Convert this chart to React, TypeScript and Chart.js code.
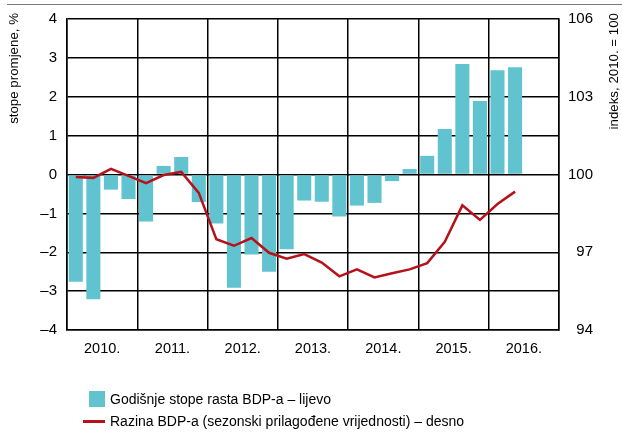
import React, { useEffect, useRef } from "react";
import { Chart, registerables } from "chart.js";

Chart.register(...registerables);

const quarters = [
  "2010 Q1", "2010 Q2", "2010 Q3", "2010 Q4",
  "2011 Q1", "2011 Q2", "2011 Q3", "2011 Q4",
  "2012 Q1", "2012 Q2", "2012 Q3", "2012 Q4",
  "2013 Q1", "2013 Q2", "2013 Q3", "2013 Q4",
  "2014 Q1", "2014 Q2", "2014 Q3", "2014 Q4",
  "2015 Q1", "2015 Q2", "2015 Q3", "2015 Q4",
  "2016 Q1", "2016 Q2", "2016 Q3", "2016 Q4",
];
const years = ["2010.", "2011.", "2012.", "2013.", "2014.", "2015.", "2016."];

const growthRates = [
  -2.76, -3.21, -0.39, -0.63,
  -1.21, 0.22, 0.45, -0.71,
  -1.26, -2.91, -2.06, -2.5,
  -1.92, -0.67, -0.7, -1.08,
  -0.8, -0.73, -0.17, 0.14,
  0.48, 1.17, 2.84, 1.89,
  2.68, 2.76, null, null,
];

const gdpLevel = [
  99.9, 99.87, 100.22, 99.95,
  99.67, 99.98, 100.1, 99.29,
  97.5, 97.25, 97.55, 96.98,
  96.75, 96.93, 96.6, 96.07,
  96.34, 96.03, 96.19, 96.34,
  96.58, 97.4, 98.81, 98.25,
  98.86, 99.34, null, null,
];

const leftTicks = [-4, -3, -2, -1, 0, 1, 2, 3, 4];
const rightTicks = [94, 97, 100, 103, 106];

const seriesLabels = [
  "Godišnje stope rasta BDP-a – lijevo",
  "Razina BDP-a (sezonski prilagođene vrijednosti) – desno",
];
const leftTitle = "stope promjene, %";
const rightTitle = "indeks, 2010. = 100";

const FONT = '"Liberation Sans", Arial, sans-serif';
const BAR_COLOR = "#62c3d0";
const LINE_COLOR = "#b5121b";

const titlePlugin = {
  id: "rotTitles",
  afterDraw(chart: any) {
    const ctx = chart.ctx;
    const draw = (text: string, x: number) => {
      ctx.save();
      ctx.fillStyle = "#000";
      ctx.font = `13.3px ${FONT}`;
      ctx.textBaseline = "middle";
      ctx.textAlign = "right";
      ctx.translate(x, 13);
      ctx.rotate(-Math.PI / 2);
      ctx.fillText(text, 0, 0);
      ctx.restore();
    };
    draw(leftTitle, 14);
    draw(rightTitle, 614);
  },
};

export default function App() {
  const ref = useRef<HTMLCanvasElement>(null);
  useEffect(() => {
    document.body.style.margin = "0";
    const chart = new Chart(ref.current as HTMLCanvasElement, {
      type: "bar",
      data: {
        labels: quarters,
        datasets: [
          {
            type: "line",
            label: seriesLabels[1],
            data: gdpLevel,
            borderColor: LINE_COLOR,
            backgroundColor: LINE_COLOR,
            borderWidth: 2.5,
            pointRadius: 0,
            tension: 0,
            xAxisID: "x",
            yAxisID: "y1",
            order: 0,
          } as any,
          {
            type: "bar",
            label: seriesLabels[0],
            data: growthRates,
            backgroundColor: BAR_COLOR,
            borderWidth: 0,
            barPercentage: 0.8,
            categoryPercentage: 1,
            xAxisID: "x",
            yAxisID: "y",
            order: 1,
          },
        ],
      },
      options: {
        animation: false,
        responsive: false,
        maintainAspectRatio: false,
        layout: { padding: { left: 0, right: 29, top: 19, bottom: 74 } },
        plugins: { legend: { display: false }, tooltip: { enabled: false } },
        scales: {
          x: { type: "category", display: false, offset: true },
          years: {
            type: "category",
            labels: years,
            position: "bottom",
            offset: true,
            grid: { offset: true, color: "#000", lineWidth: 1.5, drawTicks: false },
            border: { display: true, color: "#000", width: 1.5 },
            ticks: { color: "#000", font: { family: FONT, size: 14.5 }, padding: 10, maxRotation: 0, autoSkip: false },
            afterFit: (s: any) => { s.height = 30; },
          },
          y: {
            position: "left",
            min: -4,
            max: 4,
            afterBuildTicks: (s: any) => { s.ticks = leftTicks.map((v) => ({ value: v })); },
            grid: { color: "#000", lineWidth: 1.5, drawTicks: false },
            border: { display: true, color: "#000", width: 1.5 },
            ticks: {
              color: "#000",
              font: { family: FONT, size: 15 },
              padding: 10,
              callback: (v: any) => String(v).replace("-", "–"),
            },
            afterFit: (s: any) => { s.width = 67; },
          },
          y1: {
            position: "right",
            min: 94,
            max: 106,
            afterBuildTicks: (s: any) => { s.ticks = rightTicks.map((v) => ({ value: v })); },
            grid: { display: false, drawTicks: false },
            border: { display: true, color: "#000", width: 1.5 },
            ticks: { color: "#000", font: { family: FONT, size: 15 }, padding: 10, crossAlign: "far" },
            afterFit: (s: any) => { s.width = 34; },
          },
        },
      },
      plugins: [titlePlugin],
    });
    return () => chart.destroy();
  }, []);

  const textStyle: React.CSSProperties = {
    position: "absolute",
    left: 110,
    fontFamily: FONT,
    fontSize: 14,
    color: "#000",
    whiteSpace: "nowrap",
    lineHeight: "18px",
  };

  return (
    <div style={{ position: "absolute", left: 0, top: 0, width: 622, height: 434, background: "#fff" }}>
      <div style={{ position: "absolute", left: 7, top: 4, width: 615, height: 1, background: "#7a7a7a" }} />
      <canvas ref={ref} width={622} height={434} style={{ position: "absolute", left: 0, top: 0 }} />
      <div style={{ position: "absolute", left: 89, top: 391, width: 16, height: 16, background: BAR_COLOR }} />
      <div style={{ ...textStyle, top: 390 }}>{seriesLabels[0]}</div>
      <div style={{ position: "absolute", left: 83, top: 420, width: 22, height: 2.5, background: LINE_COLOR }} />
      <div style={{ ...textStyle, top: 412 }}>{seriesLabels[1]}</div>
    </div>
  );
}
